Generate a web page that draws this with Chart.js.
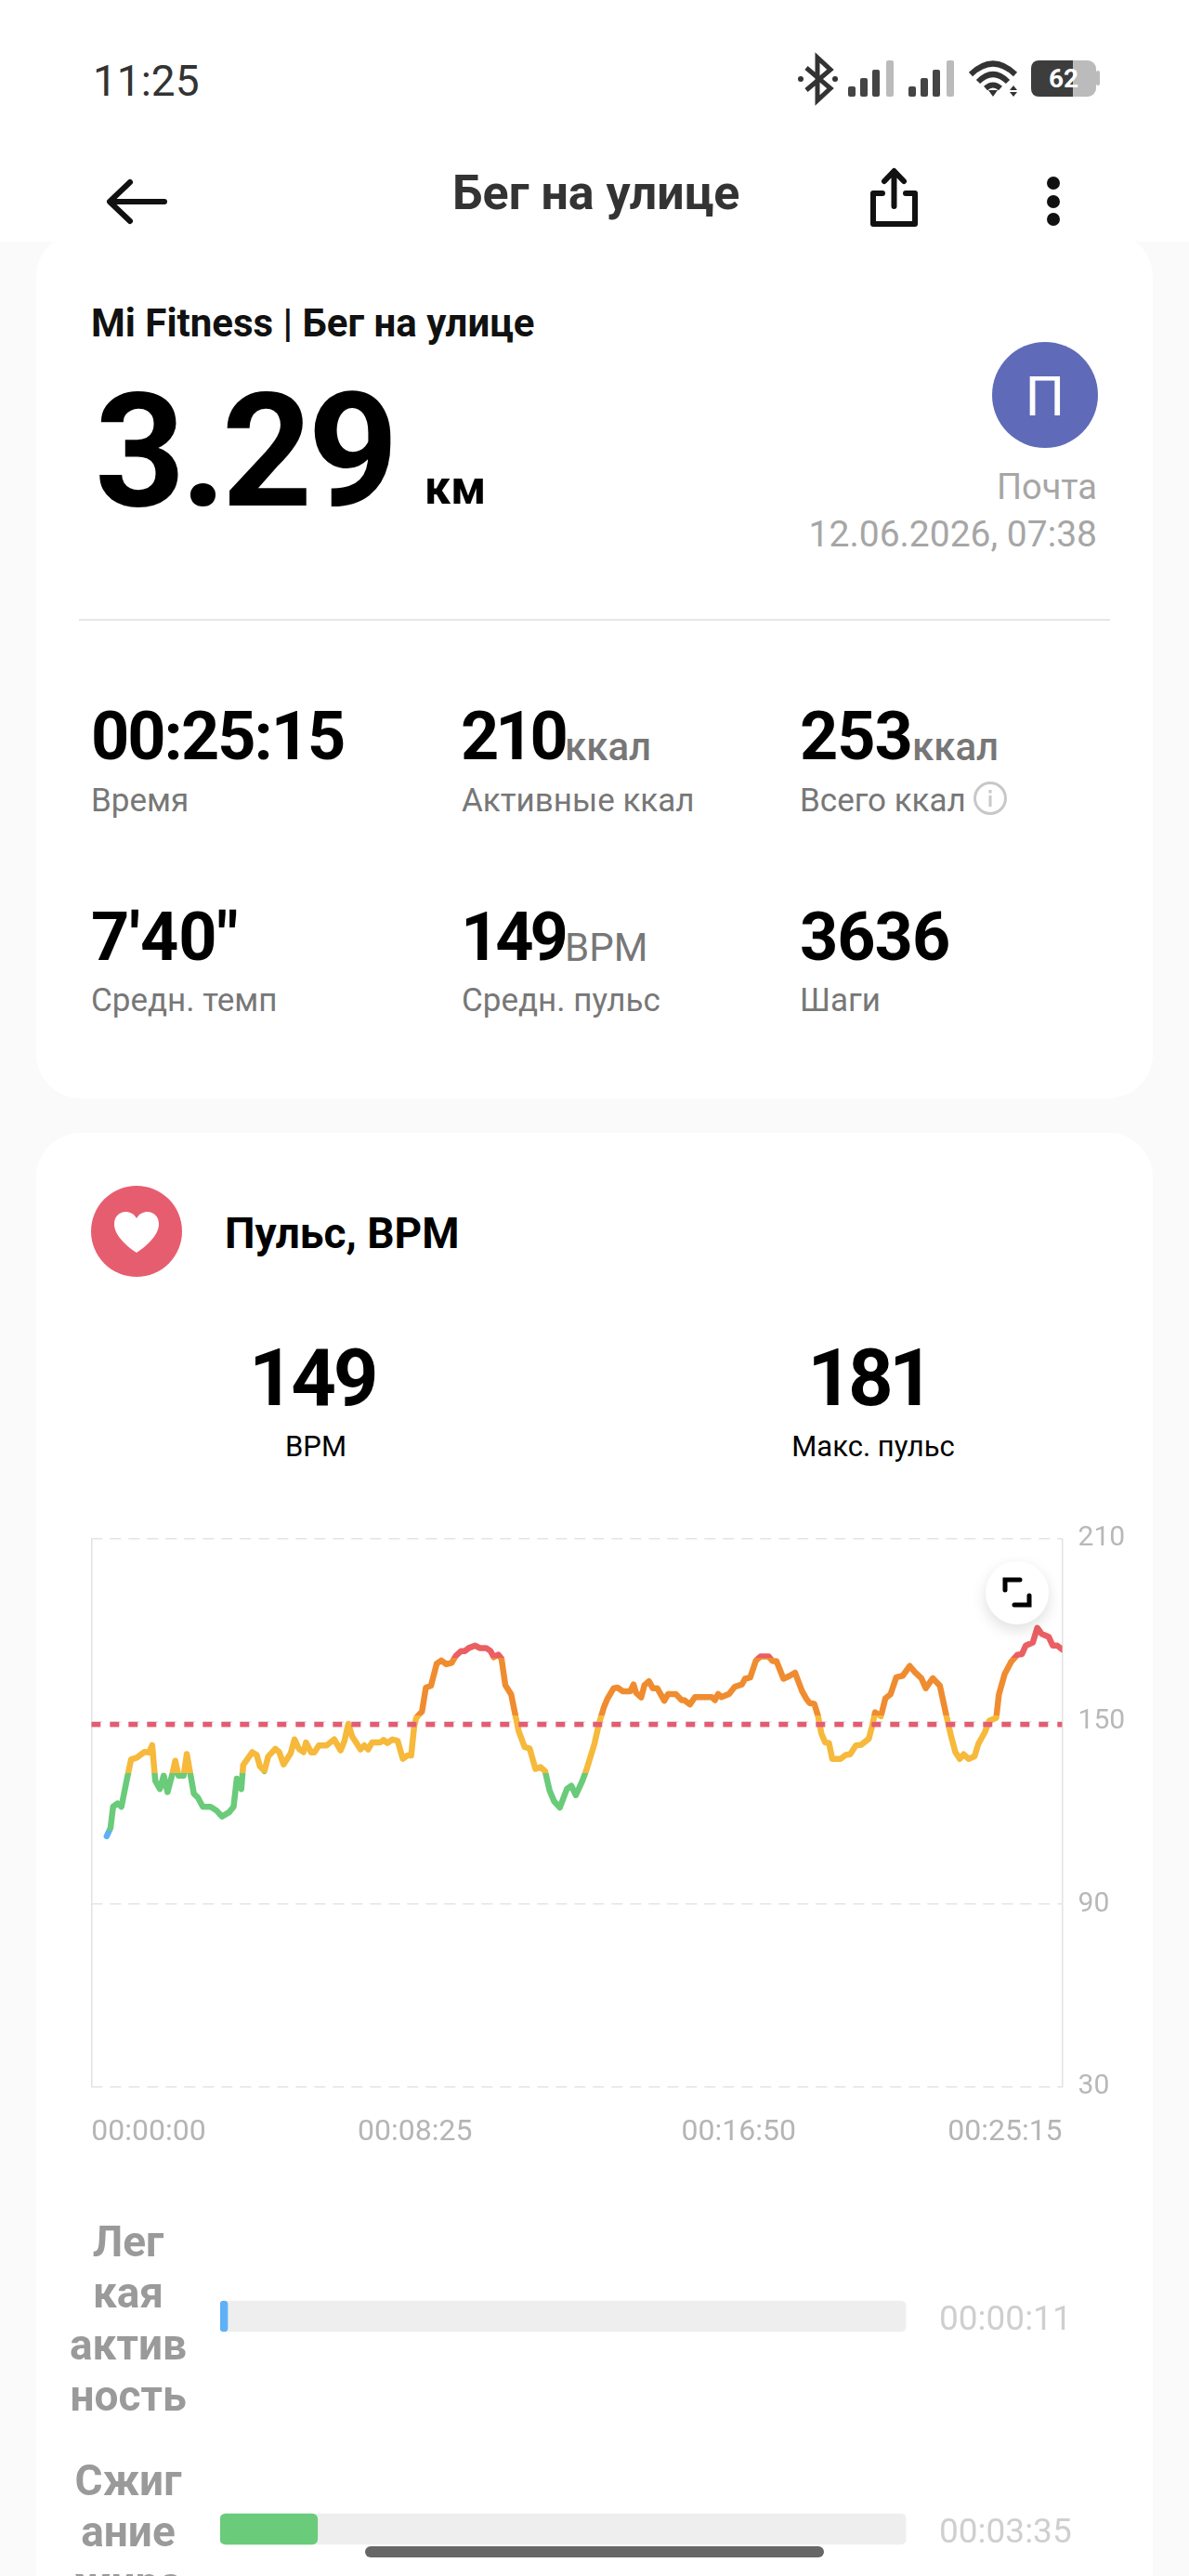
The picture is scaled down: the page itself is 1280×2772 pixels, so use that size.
<!DOCTYPE html>
<html lang="ru">
<head>
<meta charset="utf-8">
<title>Бег на улице</title>
<script src="https://cdn.jsdelivr.net/npm/chart.js@4"></script>
<style>
  html, body { margin: 0; padding: 0; width: 1280px; height: 2772px; overflow: hidden; background: #fafafa; font-family: Roboto, sans-serif; }
  .box { position: absolute; }
  .t { position: absolute; white-space: nowrap; line-height: 1; }
  canvas { position: absolute; left: 0; }
</style>
</head>
<body>
<div class="box" style="left:39px;top:250px;width:1202px;height:932px;background:#fff;border-radius:48px"></div>
<div class="box" style="left:39px;top:1219px;width:1202px;height:1700px;background:#fff;border-radius:48px"></div>
<div class="box" style="left:0;top:0;width:1280px;height:260px;background:#fff"></div>
<div class="box" style="left:84px;top:152px;width:126px;height:126px;background:#fff;border-radius:50%"></div>
<div class="box" style="left:900px;top:152px;width:126px;height:126px;background:#fff;border-radius:50%"></div>
<div class="box" style="left:1071px;top:152px;width:126px;height:126px;background:#fff;border-radius:50%"></div>
<div class="box" style="left:85px;top:666px;width:1110px;height:2px;background:#e6e6e6"></div>

<svg class="box" style="left:0;top:0" width="1280" height="300" viewBox="0 0 1280 300">
  <!-- bluetooth -->
  <path d="M868 73 L894 95 L880 108 L880 62 L894 75 L868 97" fill="none" stroke="#333" stroke-width="5"/>
  <circle cx="862" cy="85" r="3" fill="#333"/><circle cx="899" cy="85" r="3" fill="#333"/>
  <!-- signal -->
  <g fill="#444">
    <rect x="913" y="93" width="8" height="11" rx="2"/><rect x="926" y="84" width="8" height="20" rx="2"/><rect x="939" y="75" width="8" height="29" rx="2"/>
    <rect x="978" y="93" width="8" height="11" rx="2"/><rect x="991" y="84" width="8" height="20" rx="2"/><rect x="1004" y="75" width="8" height="29" rx="2"/>
  </g>
  <rect x="954" y="65" width="8" height="39" rx="2" fill="#bbb"/>
  <rect x="1019" y="65" width="8" height="39" rx="2" fill="#bbb"/>
  <!-- wifi -->
  <path d="M1045 80 Q1069 57 1093 80 M1053 88 Q1069 72 1085 88 M1061 95 Q1069 88 1077 95" fill="none" stroke="#333" stroke-width="6"/>
  <path d="M1064 97 L1074 97 L1069 104 Z" fill="#333"/>
  <path d="M1091 92 l4 5 h-8 Z M1091 104 l4 -5 h-8 Z" fill="#333"/>
  <!-- battery -->
  <rect x="1110" y="65" width="70" height="39" rx="9" fill="#bbb"/>
  <rect x="1180" y="76" width="4" height="16" rx="2" fill="#bbb"/>
  <path d="M1119 65 H1155 V104 H1119 Q1110 104 1110 95 V74 Q1110 65 1119 65 Z" fill="#3d3d3d"/>
  <!-- back -->
  <path d="M177 217 H119 M140 196 L118 217 L140 238" fill="none" stroke="#111" stroke-width="6" stroke-linecap="round" stroke-linejoin="round"/>
  <!-- share -->
  <path d="M950 208 H940 V241 H985 V208 H975 M962.500 222 V185 M952 195 L962.500 184 L973 195" fill="none" stroke="#111" stroke-width="6" stroke-linecap="round" stroke-linejoin="round"/>
  <!-- more -->
  <circle cx="1134" cy="197" r="7" fill="#111"/><circle cx="1134" cy="217" r="7" fill="#111"/><circle cx="1134" cy="236" r="7" fill="#111"/>
</svg>

<div class="box" style="left:1068px;top:368px;width:114px;height:114px;border-radius:50%;background:#5f6bb8"></div>

<svg class="box" style="left:1046px;top:839px" width="40" height="40" viewBox="0 0 40 40">
  <circle cx="20" cy="20" r="16.500" fill="none" stroke="#c8c8c8" stroke-width="3"/>
  <rect x="18.500" y="17" width="3" height="12" fill="#c8c8c8"/><rect x="18.500" y="11" width="3" height="3.500" fill="#c8c8c8"/>
</svg>

<div class="box" style="left:98px;top:1276px;width:98px;height:98px;border-radius:50%;background:#e75d70"></div>
<svg class="box" style="left:98px;top:1276px" width="98" height="98" viewBox="0 0 98 98">
  <path d="M49 72 C28 58 25 47 25 41 C25 33 31 28 37 28 C42 28 46 30 49 35 C52 30 56 28 61 28 C67 28 73 33 73 41 C73 47 70 58 49 72 Z" fill="#fff"/>
</svg>

<canvas id="pulseChart" width="1280" height="720" style="top:1620px"></canvas>

<div class="box" style="left:1061px;top:1680px;width:68px;height:68px;border-radius:50%;background:#fff;box-shadow:0 6px 16px rgba(0,0,0,.13)"></div>
<svg class="box" style="left:1061px;top:1680px" width="68" height="68" viewBox="0 0 68 68">
  <path d="M21 31 V20 H37 M47 37 V47 H31" fill="none" stroke="#000" stroke-width="5" stroke-linecap="round" stroke-linejoin="miter"/>
</svg>

<canvas id="zoneChart" width="1280" height="458" style="top:2378px"></canvas>

<div class="box" style="left:393px;top:2740px;width:494px;height:12px;border-radius:6px;background:#666"></div>

<script>
// секунды от старта
const timeSec = [24, 30, 34, 41, 47, 54, 62, 71, 83, 90, 95, 99, 100, 107, 113, 119, 126, 131, 136, 144, 149, 154, 160, 166, 174, 186, 195, 204, 215, 222, 227, 234, 237, 251, 258, 263, 270, 276, 287, 293, 300, 311, 317, 324, 331, 335, 343, 348, 355, 367, 379,
  389, 395, 401, 407, 420, 426, 432, 438, 451, 456, 462, 470, 478, 486, 493, 499, 504, 507, 516, 522, 530, 539, 546, 554, 562, 569, 577, 583, 589, 599, 606, 616, 623, 628, 635, 640, 646, 655, 662, 667, 676, 684, 693, 701, 708, 715, 722, 731, 742, 749, 756,
  766, 773, 785, 792, 800, 805, 815, 821, 829, 841, 846, 850, 858, 863, 870, 876, 883, 894, 900, 912, 921, 925, 934, 942, 968, 973, 978, 983, 995, 1004, 1015, 1020, 1028, 1037, 1044, 1057, 1063, 1069, 1080, 1090, 1098, 1109, 1116, 1121, 1128,
  1134, 1139, 1145, 1151, 1156, 1169, 1177, 1184, 1193, 1201, 1213, 1218, 1223, 1232, 1239, 1247, 1256, 1266, 1277, 1285, 1295, 1302, 1313, 1324, 1334, 1341, 1348, 1355, 1361, 1369, 1378, 1384, 1394, 1401, 1412, 1416, 1425, 1435, 1445, 1452, 1458, 1469, 1476, 1483, 1494, 1500, 1507, 1515];

const heartRate = [112.3, 115.1, 122, 123.1, 122, 129.4, 137.5, 138.1, 140, 139.8, 142.2, 132.4, 130.4, 127.8, 132.2, 126.8, 132.4, 137.1, 132.2, 132.2, 139.3, 133.4, 126.3, 125.1, 122, 122, 120.8, 118.8, 120.2, 122, 131.2, 127.8, 135.7, 139.9, 139, 135.3, 133.7, 138.5, 141, 140, 135.9, 139.5, 144.1, 141, 139.9, 143.1, 139.8, 139.8, 142.1, 142.1, 144.1,
  140.5, 143.6, 149.2, 145.1, 140.8, 142.1, 140.8, 143.1, 143.1, 143.9, 142.9, 144.1, 143.6, 137.7, 138.8, 138.8, 148.7, 151.2, 153.3, 161.1, 161.7, 169, 170, 168.8, 169.2, 171.6, 173.1, 173.1, 174.1, 174.9, 174.1, 174.1, 173.1, 171.1, 171.9, 170.6, 161.9, 158.9, 151.7, 146.7, 141.6, 141.1, 134.4, 135, 133.7, 127.3, 123.8, 121.7, 127.8, 128.9, 125.8,
  130.4, 134.4, 142.6, 149.2, 154.8, 157.3, 160.9, 161.1, 159.9, 159.9, 162.1, 159.4, 157.9, 161.9, 163.2, 160.9, 160.9, 156.8, 159, 159, 157, 157, 155.6, 158, 158, 157, 159, 158, 159, 161.4, 162.1, 164, 164.4, 170, 171.3, 171.3, 169.8, 169.8, 164, 165, 166, 159.9, 157.3, 156, 155.8,
  151.7, 146.1, 143.1, 142.9, 137.7, 137.7, 139, 139.2, 142.1, 142.3, 144.3, 148.2, 153, 151.7, 157.6, 158.9, 164.5, 165, 168.2, 166.2, 164.2, 160.9, 164.2, 161.7, 152, 145.6, 140, 137.7, 139.2, 137.7, 138.5, 142.6, 146.4, 150.2, 151.2, 158.8, 165.5, 169.5, 171.9, 172.1, 174.9, 175.9, 180.7, 178.7, 177.7, 174.9, 174.9, 173.6];

const avgPulse = 149;
const totalSec = 1515;
const yTicks = [30, 210];
const xTickLabels = ['00:00:00', '00:08:25', '00:16:50', '00:25:15'];
const zoneLimits = [114, 133, 152, 171];
const zoneLabels = [['Лег', 'кая', 'актив', 'ность'], ['Сжиг', 'ание', 'жира']];
const zoneSeconds = [11, 215];
const zoneTimes = ['00:00:11', '00:03:35'];

const zoneColors = ['#5fb0f5', '#6acb7a', '#f6b93b', '#f08c30', '#ea5f62'];

// текст ставим по базовой линии
function put(str, x, base, size, weight, color, align, spacing) {
  const el = document.createElement('div');
  el.className = 't';
  el.textContent = str;
  el.style.top = (base - 0.841 * size) + 'px';
  el.style.fontSize = size + 'px';
  el.style.fontWeight = weight;
  el.style.color = color;
  if (spacing) el.style.letterSpacing = spacing + 'px';
  if (align === 'right') el.style.right = (1280 - x) + 'px';
  else if (align === 'center') { el.style.left = x + 'px'; el.style.transform = 'translateX(-50%)'; }
  else el.style.left = x + 'px';
  document.body.appendChild(el);
}

put('11:25', 100, 103, 46, 400, '#333');
put('62', 1145, 95, 28, 700, '#fff', 'center');
put('Бег на улице', 487, 226, 52, 700, '#333');
put('Mi Fitness | Бег на улице', 98, 362, 42, 700, '#111');
put('3.29', 102, 544, 170, 700, '#000', 'left', -5);
put('км', 457, 542, 50, 700, '#000');
put('П', 1125, 447, 60, 400, '#fff', 'center');
put('Почта', 1181, 537, 38, 400, '#a6a6a6', 'right');
put('12.06.2026, 07:38', 1181, 589, 39, 400, '#a6a6a6', 'right');

put('00:25:15', 98, 818, 72, 700, '#000', 'left', -2);
put('Время', 98, 873, 35, 400, '#777');
put('210', 496, 818, 72, 700, '#000', 'left', -4);
put('ккал', 608, 818, 42, 500, '#777');
put('Активные ккал', 497, 873, 35, 400, '#777');
put('253', 861, 818, 72, 700, '#000', 'left', -1);
put('ккал', 982, 818, 42, 500, '#777');
put('Всего ккал', 861, 873, 35, 400, '#777');
put('7\'40"', 98, 1034, 72, 700, '#000');
put('Средн. темп', 98, 1088, 35, 400, '#777');
put('149', 496, 1034, 72, 700, '#000', 'left', -4);
put('BPM', 608, 1034, 42, 400, '#777');
put('Средн. пульс', 497, 1088, 35, 400, '#777');
put('3636', 861, 1034, 72, 700, '#000', 'left', -1);
put('Шаги', 861, 1088, 35, 400, '#777');

put('Пульс, BPM', 242, 1343, 46, 700, '#000');
put('149', 336, 1512, 85, 700, '#000', 'center', -3.5);
put('BPM', 340, 1567, 31, 400, '#000', 'center');
put('181', 935, 1512, 85, 700, '#000', 'center', -5);
put('Макс. пульс', 940, 1567, 31, 400, '#000', 'center');

zoneTimes.forEach((s, i) => put(s, 1011, 2507 + i * 229, 37, 400, '#cfcfcf'));

// жёсткие переходы цвета по значению пульса
function zoneGradient(ctx) {
  const chart = ctx.chart;
  if (!chart.chartArea) return zoneColors[2];
  const y = chart.scales.y;
  const top = y.getPixelForValue(yTicks[1]);
  const bottom = y.getPixelForValue(yTicks[0]);
  const g = chart.ctx.createLinearGradient(0, bottom, 0, top);
  const stops = [yTicks[0]].concat(zoneLimits, yTicks[1]);
  zoneColors.forEach((c, i) => {
    g.addColorStop((stops[i] - yTicks[0]) / (yTicks[1] - yTicks[0]), c);
    g.addColorStop((stops[i + 1] - yTicks[0]) / (yTicks[1] - yTicks[0]), c);
  });
  return g;
}

// подписи не должны сжимать область графика
function noLabelPadding(s) {
  s.paddingTop = 0;
  s.paddingBottom = 0;
}

new Chart(document.getElementById('pulseChart'), {
  type: 'line',
  data: {
    datasets: [{
      label: 'Средний пульс',
      data: [{ x: 0, y: avgPulse }, { x: totalSec, y: avgPulse }],
      borderColor: '#e35d72',
      borderWidth: 5.5,
      borderDash: [10, 10],
      pointRadius: 0,
      order: 0
    }, {
      label: 'Пульс',
      data: timeSec.map((t, i) => ({ x: t, y: heartRate[i] })),
      borderColor: zoneGradient,
      borderWidth: 6.5,
      borderCapStyle: 'round',
      borderJoinStyle: 'round',
      pointRadius: 0,
      tension: 0,
      order: 1
    }]
  },
  options: {
    responsive: false,
    animation: false,
    layout: { padding: { left: 98.3, top: 35.7 } },
    plugins: { legend: { display: false }, tooltip: { enabled: false } },
    scales: {
      x: {
        type: 'linear',
        min: 0,
        max: totalSec,
        border: { display: false },
        grid: {
          drawTicks: false,
          lineWidth: 1.5,
          color: (c) => (c.index === 0 || c.index === xTickLabels.length - 1) ? '#e2e2e2' : 'transparent'
        },
        ticks: {
          stepSize: totalSec / 3,
          align: 'inner',
          maxRotation: 0,
          padding: 30,
          color: '#b5b5b5',
          font: { family: 'Roboto', size: 32 },
          callback: (v, i) => xTickLabels[i]
        },
        afterFit: (s) => { s.height = 94.2; }
      },
      y: {
        position: 'right',
        min: yTicks[0],
        max: yTicks[1],
        border: { display: false, dash: [12, 8] },
        grid: { drawTicks: false, color: '#e4e4e4', lineWidth: 1.5 },
        ticks: {
          stepSize: 60,
          padding: 17,
          color: '#b8b8b8',
          font: { family: 'Roboto', size: 30 }
        },
        afterFit: (s) => { s.width = 136.4; noLabelPadding(s); }
      }
    }
  }
});

new Chart(document.getElementById('zoneChart'), {
  type: 'bar',
  data: {
    labels: zoneLabels,
    datasets: [{
      data: zoneSeconds,
      backgroundColor: [zoneColors[0], zoneColors[1]],
      barThickness: 33,
      minBarLength: 8,
      borderRadius: 6,
      borderSkipped: false,
      order: 0
    }, {
      data: zoneSeconds.map(() => totalSec),
      backgroundColor: '#eeeeee',
      barThickness: 33,
      borderRadius: 6,
      borderSkipped: false,
      order: 1
    }]
  },
  options: {
    indexAxis: 'y',
    responsive: false,
    animation: false,
    layout: { padding: { right: 304.5 } },
    plugins: { legend: { display: false }, tooltip: { enabled: false } },
    datasets: { bar: { grouped: false } },
    scales: {
      x: { display: false, min: 0, max: totalSec },
      y: {
        border: { display: false },
        grid: { display: false, drawTicks: false },
        ticks: {
          crossAlign: 'center',
          padding: 36,
          autoSkip: false,
          labelOffset: 7,
          color: '#9a9a9a',
          font: { family: 'Roboto', size: 46, weight: '700', lineHeight: 1.2 }
        },
        afterFit: (s) => { s.width = 237; noLabelPadding(s); }
      }
    }
  }
});
</script>
</body>
</html>
